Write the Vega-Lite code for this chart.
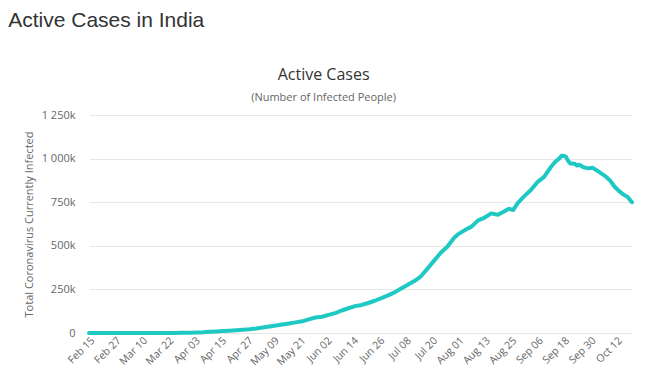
{
  "$schema": "https://vega.github.io/schema/vega-lite/v6.json",
  "background": "white",
  "padding": {"left": 8, "top": 10, "right": 18, "bottom": 0},
  "title": {
    "text": "Active Cases in India",
    "anchor": "start",
    "frame": "bounds",
    "font": "Liberation Sans",
    "fontSize": 21,
    "fontWeight": "normal",
    "color": "#333333",
    "dx": -15,
    "offset": 36
  },
  "config": {
    "view": {"stroke": null},
    "font": "Open Sans"
  },
  "vconcat": [
    {
      "width": 543,
      "height": 218,
      "title": {
        "text": "Active Cases",
        "subtitle": "(Number of Infected People)",
        "anchor": "middle",
        "frame": "bounds",
        "dx": -5,
        "font": "Open Sans",
        "fontSize": 16,
        "fontWeight": "normal",
        "color": "#333333",
        "subtitleFont": "Open Sans",
        "subtitleFontSize": 11,
        "subtitleColor": "#666666",
        "subtitlePadding": 9,
        "offset": 6
      },
      "data": {
        "values": [
          {"date": "2020-02-15", "active": 3},
          {"date": "2020-02-20", "active": 3},
          {"date": "2020-02-25", "active": 3},
          {"date": "2020-03-01", "active": 3},
          {"date": "2020-03-04", "active": 25},
          {"date": "2020-03-08", "active": 36},
          {"date": "2020-03-12", "active": 70},
          {"date": "2020-03-16", "active": 112},
          {"date": "2020-03-20", "active": 220},
          {"date": "2020-03-24", "active": 500},
          {"date": "2020-03-28", "active": 850},
          {"date": "2020-04-01", "active": 1700},
          {"date": "2020-04-04", "active": 3000},
          {"date": "2020-04-07", "active": 4300},
          {"date": "2020-04-10", "active": 6500},
          {"date": "2020-04-13", "active": 8500},
          {"date": "2020-04-16", "active": 11000},
          {"date": "2020-04-19", "active": 13500},
          {"date": "2020-04-22", "active": 16000},
          {"date": "2020-04-25", "active": 19000},
          {"date": "2020-04-28", "active": 22000},
          {"date": "2020-05-01", "active": 26000},
          {"date": "2020-05-04", "active": 31000},
          {"date": "2020-05-07", "active": 37000},
          {"date": "2020-05-10", "active": 43000},
          {"date": "2020-05-13", "active": 49000},
          {"date": "2020-05-16", "active": 55000},
          {"date": "2020-05-19", "active": 61000},
          {"date": "2020-05-22", "active": 67000},
          {"date": "2020-05-25", "active": 78000},
          {"date": "2020-05-28", "active": 89000},
          {"date": "2020-05-31", "active": 93000},
          {"date": "2020-06-03", "active": 104000},
          {"date": "2020-06-06", "active": 114000},
          {"date": "2020-06-09", "active": 129000},
          {"date": "2020-06-12", "active": 142000},
          {"date": "2020-06-15", "active": 154000},
          {"date": "2020-06-18", "active": 161000},
          {"date": "2020-06-21", "active": 172000},
          {"date": "2020-06-24", "active": 185000},
          {"date": "2020-06-27", "active": 200000},
          {"date": "2020-06-30", "active": 216000},
          {"date": "2020-07-03", "active": 233000},
          {"date": "2020-07-06", "active": 255000},
          {"date": "2020-07-09", "active": 276000},
          {"date": "2020-07-12", "active": 298000},
          {"date": "2020-07-15", "active": 325000},
          {"date": "2020-07-18", "active": 370000},
          {"date": "2020-07-21", "active": 415000},
          {"date": "2020-07-24", "active": 460000},
          {"date": "2020-07-27", "active": 495000},
          {"date": "2020-07-30", "active": 545000},
          {"date": "2020-08-01", "active": 567000},
          {"date": "2020-08-04", "active": 590000},
          {"date": "2020-08-07", "active": 610000},
          {"date": "2020-08-10", "active": 646000},
          {"date": "2020-08-13", "active": 662000},
          {"date": "2020-08-16", "active": 686000},
          {"date": "2020-08-19", "active": 678000},
          {"date": "2020-08-22", "active": 698000},
          {"date": "2020-08-24", "active": 712000},
          {"date": "2020-08-26", "active": 705000},
          {"date": "2020-08-28", "active": 745000},
          {"date": "2020-08-31", "active": 785000},
          {"date": "2020-09-03", "active": 820000},
          {"date": "2020-09-06", "active": 865000},
          {"date": "2020-09-09", "active": 895000},
          {"date": "2020-09-12", "active": 950000},
          {"date": "2020-09-14", "active": 980000},
          {"date": "2020-09-16", "active": 1002000},
          {"date": "2020-09-17", "active": 1017000},
          {"date": "2020-09-18", "active": 1015000},
          {"date": "2020-09-19", "active": 1010000},
          {"date": "2020-09-20", "active": 985000},
          {"date": "2020-09-21", "active": 972000},
          {"date": "2020-09-23", "active": 970000},
          {"date": "2020-09-24", "active": 960000},
          {"date": "2020-09-25", "active": 965000},
          {"date": "2020-09-27", "active": 950000},
          {"date": "2020-09-29", "active": 944000},
          {"date": "2020-10-01", "active": 948000},
          {"date": "2020-10-03", "active": 932000},
          {"date": "2020-10-05", "active": 915000},
          {"date": "2020-10-07", "active": 898000},
          {"date": "2020-10-09", "active": 875000},
          {"date": "2020-10-11", "active": 840000},
          {"date": "2020-10-13", "active": 815000},
          {"date": "2020-10-15", "active": 795000},
          {"date": "2020-10-17", "active": 780000},
          {"date": "2020-10-19", "active": 750000}
        ]
      },
      "mark": {"type": "line", "color": "#1fc9c3", "strokeWidth": 4, "strokeCap": "round", "strokeJoin": "round"},
      "encoding": {
        "x": {
          "field": "date",
          "type": "temporal",
          "scale": {"type": "utc", "nice": false},
          "axis": {
            "title": null,
            "labelExpr": "utcFormat(datum.value, '%b %d')",
            "values": [
              {"year": 2020, "month": 2, "date": 15, "utc": true},
              {"year": 2020, "month": 2, "date": 27, "utc": true},
              {"year": 2020, "month": 3, "date": 10, "utc": true},
              {"year": 2020, "month": 3, "date": 22, "utc": true},
              {"year": 2020, "month": 4, "date": 3, "utc": true},
              {"year": 2020, "month": 4, "date": 15, "utc": true},
              {"year": 2020, "month": 4, "date": 27, "utc": true},
              {"year": 2020, "month": 5, "date": 9, "utc": true},
              {"year": 2020, "month": 5, "date": 21, "utc": true},
              {"year": 2020, "month": 6, "date": 2, "utc": true},
              {"year": 2020, "month": 6, "date": 14, "utc": true},
              {"year": 2020, "month": 6, "date": 26, "utc": true},
              {"year": 2020, "month": 7, "date": 8, "utc": true},
              {"year": 2020, "month": 7, "date": 20, "utc": true},
              {"year": 2020, "month": 8, "date": 1, "utc": true},
              {"year": 2020, "month": 8, "date": 13, "utc": true},
              {"year": 2020, "month": 8, "date": 25, "utc": true},
              {"year": 2020, "month": 9, "date": 6, "utc": true},
              {"year": 2020, "month": 9, "date": 18, "utc": true},
              {"year": 2020, "month": 9, "date": 30, "utc": true},
              {"year": 2020, "month": 10, "date": 12, "utc": true}
            ],
            "labelAngle": -45,
            "labelAlign": "right",
            "labelBaseline": "top",
            "labelFont": "Open Sans",
            "labelFontSize": 10.5,
            "labelColor": "#666666",
            "labelPadding": 2,
            "labelOverlap": false,
            "labelBound": false,
            "labelFlush": false,
            "ticks": false,
            "grid": false,
            "domain": true,
            "domainColor": "#e6e6e6",
            "domainWidth": 1
          }
        },
        "y": {
          "field": "active",
          "type": "quantitative",
          "scale": {"domain": [0, 1250000], "nice": false},
          "axis": {
            "title": "Total Coronavirus Currently Infected",
            "titleFont": "Open Sans",
            "titleFontSize": 11,
            "titleFontWeight": "normal",
            "titleColor": "#666666",
            "titlePadding": 7,
            "values": [0, 250000, 500000, 750000, 1000000, 1250000],
            "labelExpr": "datum.value == 0 ? '0' : replace(format(datum.value / 1000, ','), ',', ' ') + 'k'",
            "labelFont": "Open Sans",
            "labelFontSize": 11,
            "labelColor": "#666666",
            "labelPadding": 14,
            "ticks": false,
            "domain": false,
            "grid": true,
            "gridColor": "#e6e6e6",
            "gridWidth": 1
          }
        }
      }
    }
  ]
}
